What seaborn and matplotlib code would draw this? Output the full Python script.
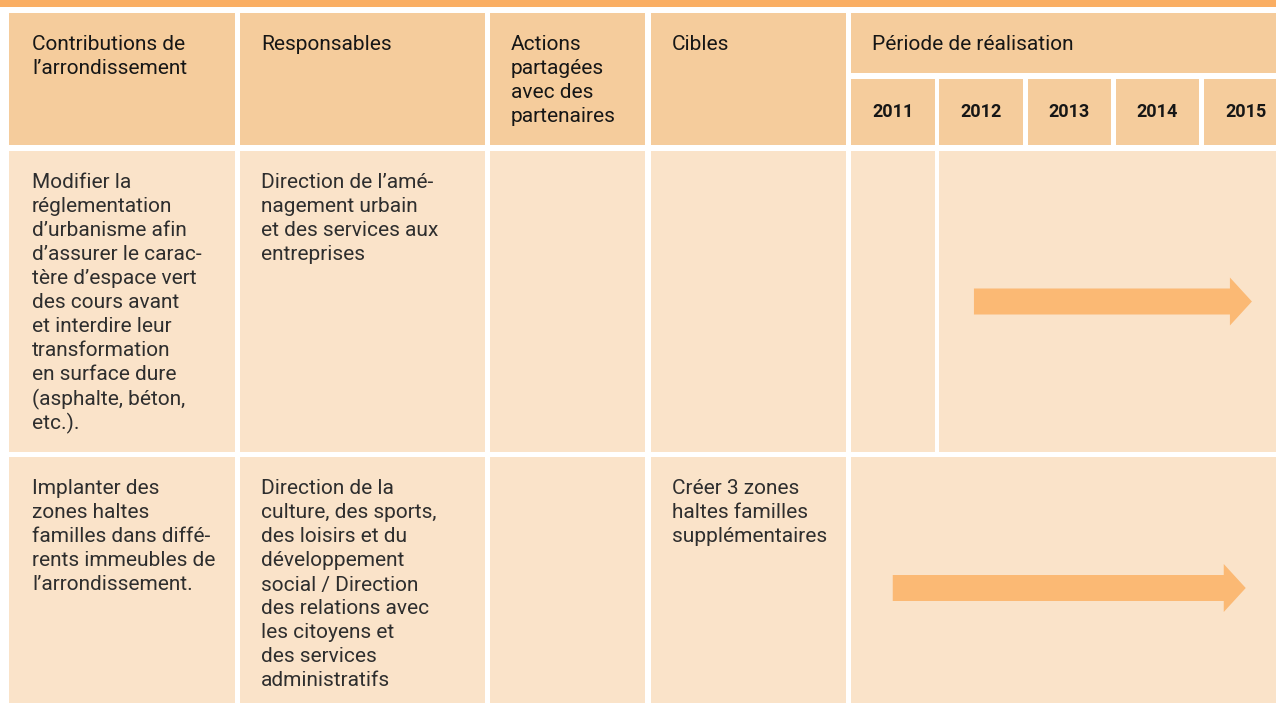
import matplotlib
matplotlib.use("Agg")
import matplotlib.pyplot as plt
from matplotlib.patches import Rectangle, FancyArrow
import seaborn as sns

# ---------------- data ----------------
header_cols = [
    ["Contributions de", "l\u2019arrondissement"],
    ["Responsables"],
    ["Actions", "partag\u00e9es", "avec des", "partenaires"],
    ["Cibles"],
]
period_title = "P\u00e9riode de r\u00e9alisation"
years = [2011, 2012, 2013, 2014, 2015]

row1_cells = [
    ["Modifier la", "r\u00e9glementation", "d\u2019urbanisme afin",
     "d\u2019assurer le carac-", "t\u00e8re d\u2019espace vert", "des cours avant",
     "et interdire leur", "transformation", "en surface dure",
     "(asphalte, b\u00e9ton,", "etc.)."],
    ["Direction de l\u2019am\u00e9-", "nagement urbain", "et des services aux",
     "entreprises"],
    [],
    [],
]
row2_cells = [
    ["Implanter des", "zones haltes", "familles dans diff\u00e9-",
     "rents immeubles de", "l\u2019arrondissement."],
    ["Direction de la", "culture, des sports,", "des loisirs et du",
     "d\u00e9veloppement", "social / Direction", "des relations avec",
     "les citoyens et", "des services", "administratifs"],
    [],
    ["Cr\u00e9er 3 zones", "haltes familles", "suppl\u00e9mentaires"],
]
rows = [row1_cells, row2_cells]
arrow_start = [2011.92, 2011.0]   # year position where the arrow begins
arrow_end = [2015.07, 2015.0]     # year position of the arrow tip

# ---------------- style ----------------
sns.set_theme(style="white")
plt.rcParams["font.family"] = ["Roboto", "DejaVu Sans"]

C_BAND = "#FAAE63"
C_HEAD = "#F5CC9C"
C_ROW = "#FAE3C9"
C_ARROW = "#FBB974"
C_TXT_HEAD = "#161616"
C_TXT = "#2E2E2E"

W, H = 1276, 703
fig = plt.figure(figsize=(W / 100, H / 100), dpi=100)
ax = fig.add_axes([0, 0, 1, 1])
ax.set_xlim(0, W)
ax.set_ylim(H, 0)
ax.axis("off")

# layout (pixel space)
col_x = [(9, 235), (240, 485), (490, 645), (651, 846)]
text_x = [32, 261, 511, 672]
period_x0, period_x1 = 851, W + 10
year_pitch = 88.25
year_w = 83.5
head_top, head_bot = 13, 145
period_head_bot, years_top = 73, 79
row_y = [(151, 452), (457, 719)]
line_h = 24
first_off = 32
fs = 15


def year_to_x(y):
    return period_x0 + (y - years[0]) * year_pitch + year_w / 2


def cell(x0, x1, y0, y1, color):
    ax.add_patch(Rectangle((x0, y0), x1 - x0, y1 - y0, facecolor=color,
                           edgecolor="none", zorder=1))


def lines(x, ytop, txt, color, weight="normal"):
    for i, t in enumerate(txt):
        ax.text(x, ytop + first_off + i * line_h, t, fontsize=fs, color=color,
                va="center", ha="left", fontweight=weight, zorder=3)


# top band
cell(0, W, 0, 7, C_BAND)

# header
for (x0, x1), tx, txt in zip(col_x, text_x, header_cols):
    cell(x0, x1, head_top, head_bot, C_HEAD)
    lines(tx, head_top, txt, C_TXT_HEAD)
cell(period_x0, period_x1, head_top, period_head_bot, C_HEAD)
lines(872, head_top, [period_title], C_TXT_HEAD)
for i, yr in enumerate(years):
    x0 = period_x0 + i * year_pitch
    cell(x0, x0 + year_w, years_top, head_bot, C_HEAD)
    ax.text(x0 + year_w / 2, 112, str(yr), fontsize=13, fontweight="bold",
            color=C_TXT_HEAD, ha="center", va="center", zorder=3)

# body rows
for r, (cells, (y0, y1)) in enumerate(zip(rows, row_y)):
    for (x0, x1), tx, txt in zip(col_x, text_x, cells):
        cell(x0, x1, y0, y1, C_ROW)
        lines(tx, y0, txt, C_TXT)
    # period cells: years before the arrow starts are separate cells
    first_active = int(round(arrow_start[r] - years[0]))
    for i in range(first_active):
        x0 = period_x0 + i * year_pitch
        cell(x0, x0 + year_w, y0, y1, C_ROW)
    cell(period_x0 + first_active * year_pitch, period_x1, y0, y1, C_ROW)
    # arrow
    xs = year_to_x(arrow_start[r])
    xe = year_to_x(arrow_end[r])
    yc = (y0 + y1) / 2
    ax.add_patch(FancyArrow(xs, yc, xe - xs, 0, width=26, head_width=48,
                            head_length=22, length_includes_head=True,
                            facecolor=C_ARROW, edgecolor="none", zorder=2))

fig.savefig("out.png", dpi=100, facecolor="white")
